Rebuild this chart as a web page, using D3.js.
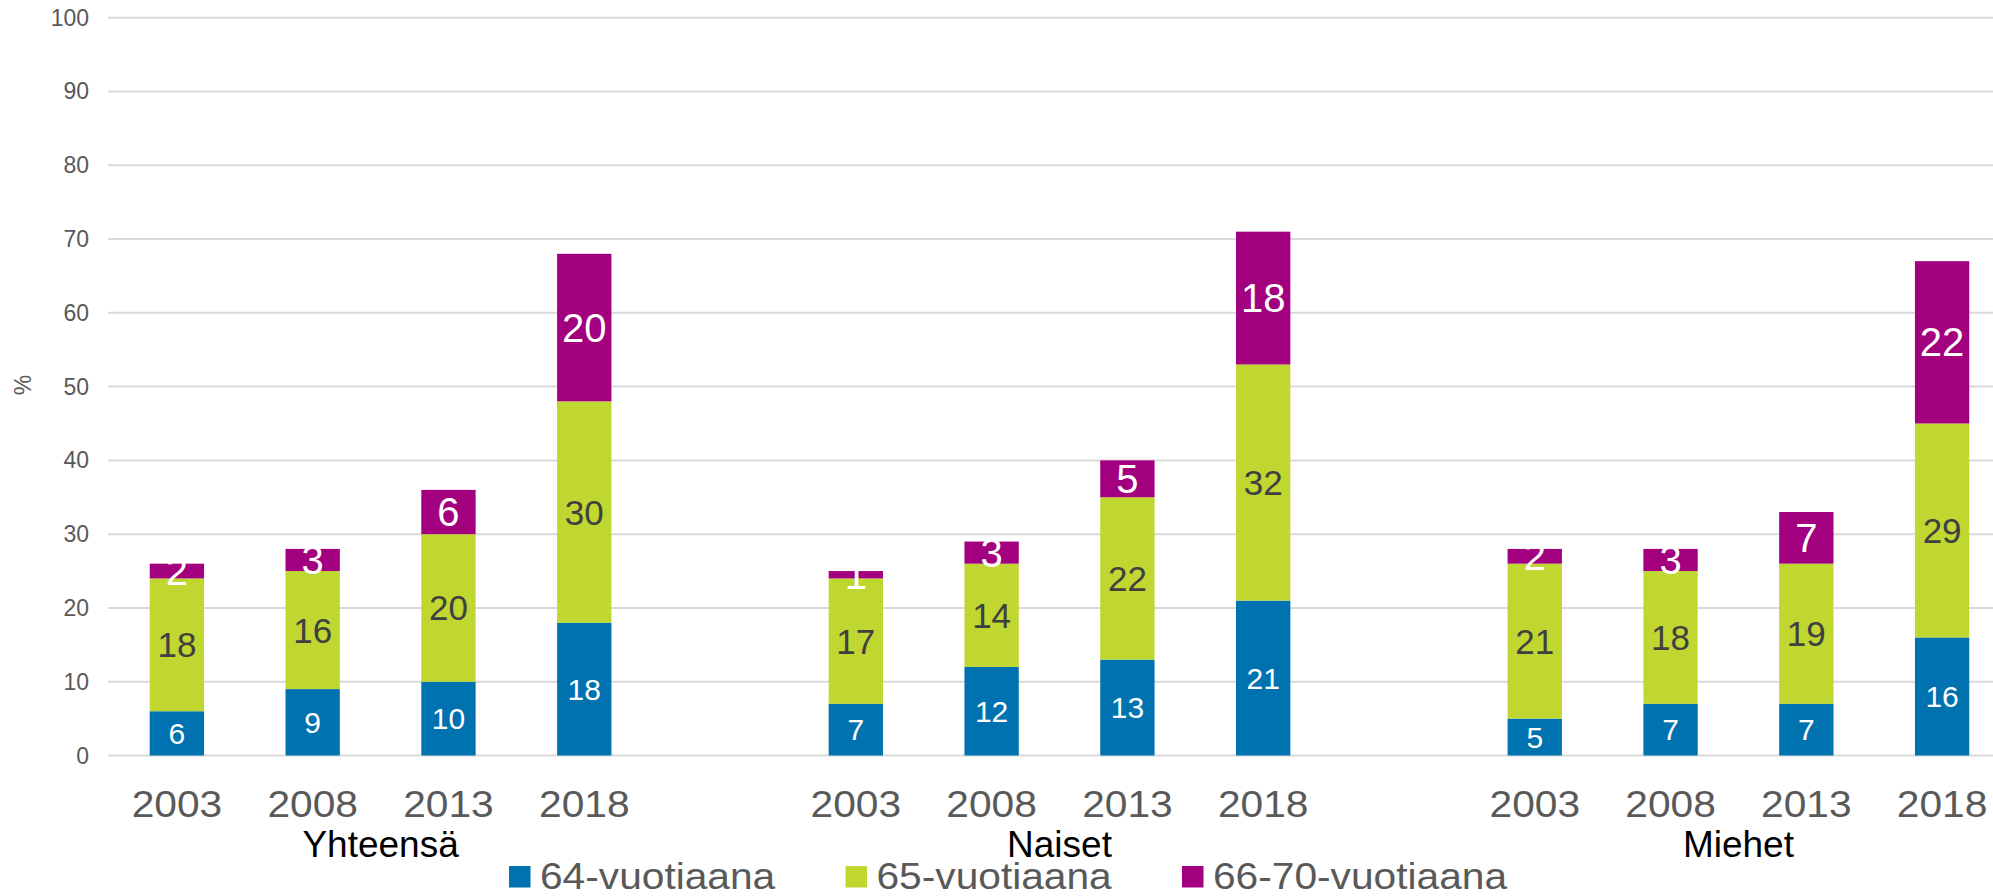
<!DOCTYPE html>
<html>
<head>
<meta charset="utf-8">
<script src="https://cdn.jsdelivr.net/npm/d3@7"></script>
<style>
  html, body { margin: 0; padding: 0; background: #fff; }
  svg { display: block; font-family: "Liberation Sans", Arial, sans-serif; }
</style>
</head>
<body>
<svg id="chart" width="1993" height="896"></svg>
<script>
const groups = ["Yhteensä", "Naiset", "Miehet"];
const years = ["2003", "2008", "2013", "2018"];
const seriesNames = ["64-vuotiaana", "65-vuotiaana", "66-70-vuotiaana"];
const v64 = [6, 9, 10, 18, 7, 12, 13, 21, 5, 7, 7, 16];
const v65 = [18, 16, 20, 30, 17, 14, 22, 32, 21, 18, 19, 29];
const v6670 = [2, 3, 6, 20, 1, 3, 5, 18, 2, 3, 7, 22];
const yTicks = [0, 10, 20, 30, 40, 50, 60, 70, 80, 90, 100];
const colors = ["#0072AF", "#BFD730", "#A3007F"];
const labelColors = ["#ffffff", "#404040", "#ffffff"];
const labelSizes = [30, 35, 40];

const rows = [];
groups.forEach((g, gi) => {
  years.forEach((yr, yi) => {
    const i = gi * years.length + yi;
    rows.push({ key: g + "|" + yr, group: g, year: yr, s0: v64[i], s1: v65[i], s2: v6670[i] });
  });
});
const slots = [];
groups.forEach((g, gi) => {
  years.forEach(yr => slots.push(g + "|" + yr));
  if (gi < groups.length - 1) slots.push("gap" + gi);
});

const svg = d3.select("#chart");
const x = d3.scaleBand().domain(slots).range([109, 2010]).paddingInner(0.6).paddingOuter(0.3);
const y = d3.scaleLinear().domain([0, 100]).range([755.5, 17.7]);

// gridlines
svg.append("g").selectAll("line").data(yTicks).join("line")
  .attr("x1", 108).attr("x2", 1993)
  .attr("y1", d => y(d)).attr("y2", d => y(d))
  .attr("stroke", "#d9d9d9").attr("stroke-width", 2);

// y tick labels
svg.append("g").selectAll("text").data(yTicks).join("text")
  .attr("x", 89).attr("y", d => y(d))
  .attr("text-anchor", "end").attr("dominant-baseline", "central")
  .attr("font-size", 23).attr("fill", "#595959")
  .text(d => d);

// y axis title
svg.append("text")
  .attr("transform", "translate(23,385) rotate(-90)")
  .attr("text-anchor", "middle").attr("dominant-baseline", "central")
  .attr("font-size", 23).attr("fill", "#595959").text("%");

const keys = ["s0", "s1", "s2"];
const stacked = d3.stack().keys(keys)(rows);

const layers = svg.append("g").selectAll("g").data(stacked).join("g")
  .attr("fill", (d, i) => colors[i]);
layers.selectAll("rect").data(d => d).join("rect")
  .attr("x", d => x(d.data.key))
  .attr("width", x.bandwidth())
  .attr("y", d => y(d[1]))
  .attr("height", d => y(d[0]) - y(d[1]));

// value labels
const lab = svg.append("g").selectAll("g").data(stacked).join("g");
lab.each(function(layer, li) {
  d3.select(this).selectAll("text").data(layer).join("text")
    .attr("x", d => x(d.data.key) + x.bandwidth() / 2)
    .attr("y", d => y((d[0] + d[1]) / 2))
    .attr("text-anchor", "middle").attr("dominant-baseline", "central")
    .attr("font-size", labelSizes[li]).attr("fill", labelColors[li])
    .text(d => d.data[keys[li]]);
});

// year labels
svg.append("g").selectAll("text").data(rows).join("text")
  .attr("transform", d => "translate(" + (x(d.key) + x.bandwidth() / 2) + ",817) scale(1.1,1)")
  .attr("text-anchor", "middle")
  .attr("font-size", 37).attr("fill", "#595959")
  .text(d => d.year);

// group labels
svg.append("g").selectAll("text").data(groups).join("text")
  .attr("x", g => {
    const a = x(g + "|" + years[0]);
    const b = x(g + "|" + years[years.length - 1]) + x.bandwidth();
    return (a + b) / 2;
  })
  .attr("y", 857)
  .attr("text-anchor", "middle")
  .attr("font-size", 37).attr("fill", "#000000")
  .text(g => g);

// legend
const leg = svg.append("g").selectAll("g").data(seriesNames).join("g")
  .attr("transform", (d, i) => "translate(" + (509 + i * 336.5) + ",0)");
leg.append("rect").attr("x", 0).attr("y", 866).attr("width", 21.5).attr("height", 21.5)
  .attr("fill", (d, i) => colors[i]);
leg.append("text")
  .attr("transform", "translate(31,889) scale(1.1,1)")
  .attr("font-size", 37).attr("fill", "#595959")
  .text(d => d);
</script>
</body>
</html>
